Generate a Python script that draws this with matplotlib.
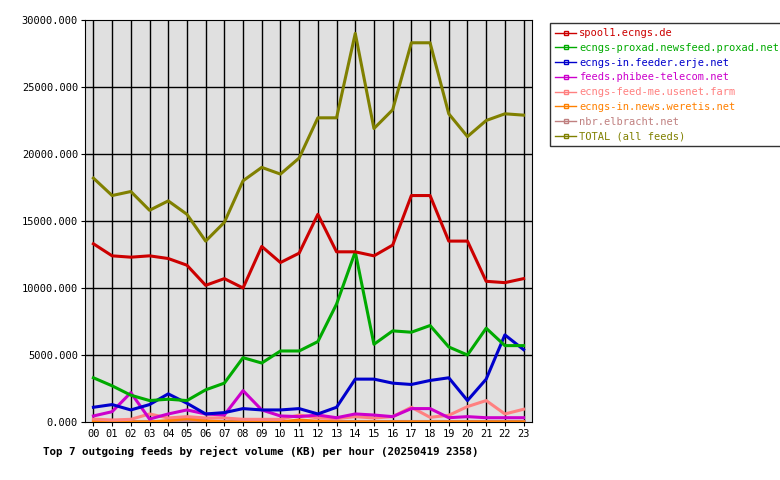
import matplotlib
matplotlib.use("Agg")
import matplotlib.pyplot as plt
from matplotlib.ticker import FuncFormatter

hours = [f"{h:02d}" for h in range(24)]

spool1 = [13300, 12400, 12300, 12400, 12200, 11700, 10200, 10700, 10000, 13100, 11900, 12600,
          15500, 12700, 12700, 12400, 13200, 16900, 16900, 13500, 13500, 10500, 10400, 10700]
proxad = [3300, 2700, 2000, 1600, 1700, 1600, 2400, 2900, 4800, 4400, 5300, 5300,
          6000, 8800, 12700, 5800, 6800, 6700, 7200, 5600, 5000, 7000, 5700, 5700]
erje = [1100, 1300, 900, 1300, 2100, 1400, 600, 700, 1000, 900, 900, 1000,
        600, 1100, 3200, 3200, 2900, 2800, 3100, 3300, 1600, 3200, 6500, 5400]
phibee = [450, 770, 2190, 220, 600, 900, 600, 520, 2340, 900, 450, 400,
          520, 320, 600, 520, 400, 1000, 1000, 320, 400, 320, 320, 320]
usenet_farm = [220, 150, 200, 600, 300, 400, 300, 300, 200, 200, 200, 520,
               300, 250, 400, 300, 400, 1100, 350, 500, 1150, 1600, 600, 950]
weretis = [50, 0, 0, 0, 100, 250, 100, 0, 0, 0, 0, 150,
           50, 0, 0, 0, 0, 0, 0, 0, 0, 0, 0, 0]
elbracht = [60] * 24
total = [18200, 16900, 17200, 15800, 16500, 15500, 13500, 14900, 18000, 19000, 18500, 19700,
         22700, 22700, 29000, 21900, 23300, 28300, 28300, 23000, 21300, 22500, 23000, 22900]

series = [
    ("spool1.ecngs.de", spool1, "#cc0000"),
    ("ecngs-proxad.newsfeed.proxad.net", proxad, "#00aa00"),
    ("ecngs-in.feeder.erje.net", erje, "#0000cc"),
    ("feeds.phibee-telecom.net", phibee, "#cc00cc"),
    ("ecngs-feed-me.usenet.farm", usenet_farm, "#ff8080"),
    ("ecngs-in.news.weretis.net", weretis, "#ff8000"),
    ("nbr.elbracht.net", elbracht, "#c08080"),
    ("TOTAL (all feeds)", total, "#808000"),
]

plt.rcParams["font.family"] = "DejaVu Sans Mono"
fig = plt.figure(figsize=(7.8, 4.8), dpi=100)
ax = fig.add_axes([85 / 780, 58 / 480, 447 / 780, 402 / 480])
ax.set_facecolor("#e0e0e0")

x = list(range(24))
for h in x:
    ax.axvline(h, color="black", lw=1, zorder=1)
for v in range(5000, 30000, 5000):
    ax.axhline(v, color="black", lw=1, zorder=1)

handles = []
for name, vals, col in reversed(series):
    ax.plot(x, vals, color=col, lw=2.2, zorder=3)
for name, vals, col in series:
    h, = ax.plot([], [], color=col, lw=1, marker="s", markersize=2.5,
                 markerfacecolor="none")
    handles.append(h)

ax.set_xlim(-0.45, 23.45)
ax.set_ylim(0, 30000)
ax.set_xticks(x)
ax.set_xticklabels(hours, fontsize=7.5)
ax.set_yticks(range(0, 30001, 5000))
ax.yaxis.set_major_formatter(FuncFormatter(lambda v, p: f"{v:.3f}"))
ax.tick_params(labelsize=7.5, length=3, pad=2)
ax.set_xlabel("Top 7 outgoing feeds by reject volume (KB) per hour (20250419 2358)",
              fontsize=7.8, fontweight="bold", loc="left")
ax.xaxis.set_label_coords(-0.095, -0.06)

leg = fig.legend(handles, [s[0] for s in series], loc="upper left",
                 bbox_to_anchor=(545 / 780, 1 - 18 / 480), fontsize=7.5,
                 frameon=True, fancybox=False, edgecolor="black",
                 handlelength=2, handletextpad=0.3, borderpad=0.5,
                 labelspacing=0.45)
leg.get_frame().set_linewidth(1)
for t, s in zip(leg.get_texts(), series):
    t.set_color(s[2])

fig.savefig("out.png", dpi=100, facecolor="white")
